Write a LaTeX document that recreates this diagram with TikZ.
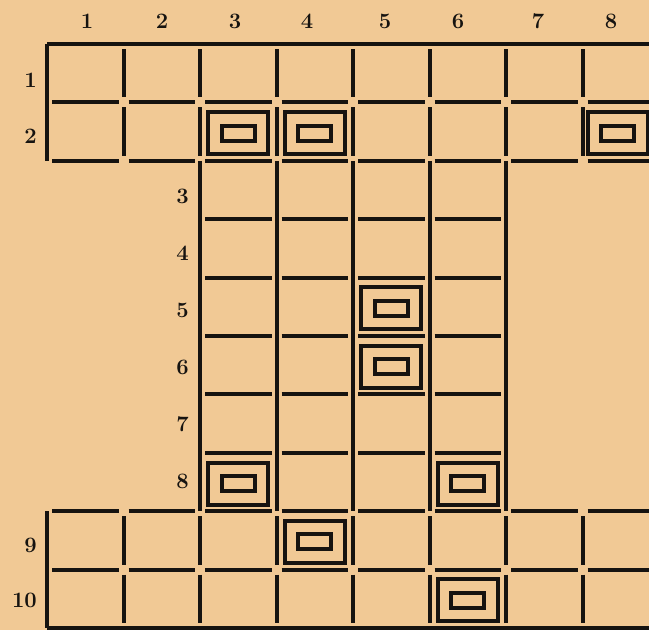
\documentclass[tikz,border=0pt]{standalone}
\usetikzlibrary{calc}
\definecolor{paper}{HTML}{F1C995}
\definecolor{ink}{HTML}{161310}

\begin{document}
\begin{tikzpicture}[x=1pt,y=-1pt,
  rule/.style={draw=ink,line width=4pt},
  cellrule/.style={rule,shorten >=5pt,shorten <=5pt},
  numlbl/.style={font=\fontsize{22}{22}\selectfont\bfseries,text=ink,inner sep=0pt},
  framebox/.style={draw=ink,line width=4pt,minimum width=60pt,minimum height=42pt,inner sep=0pt},
  slotbox/.style={draw=ink,line width=4pt,minimum width=33pt,minimum height=15pt,inner sep=0pt}]
  \def\gx{47}\def\gy{44}\def\cw{76.5}\def\rh{58.4}
  \useasboundingbox (0,0) rectangle (649,630);
  \fill[paper] (0,0) rectangle (649,630);
  \clip (0,0) rectangle (649,630);
  \draw[rule] (\gx,\gy) -- ({\gx+8*\cw},\gy);
  \draw[rule] (\gx,\gy) -- (\gx,{\gy+2*\rh});
  \draw[rule] (\gx,{\gy+8*\rh}) -- (\gx,{\gy+10*\rh});
  \draw[rule] (\gx,{\gy+10*\rh}) -- ({\gx+8*\cw},{\gy+10*\rh});
  \foreach \i in {2,...,6}
    \draw[rule] ({\gx+\i*\cw},{\gy+2*\rh}) -- ++(0,{6*\rh});
  \foreach \j/\a/\b in {1/0/7,2/0/7,3/2/5,4/2/5,5/2/5,6/2/5,7/2/5,8/0/7,9/0/7}
    \foreach \i in {\a,...,\b}
      \draw[cellrule] ({\gx+\i*\cw},{\gy+\j*\rh}) -- ++(\cw,0);
  \foreach \j in {0,1,8,9}
    \foreach \i in {1,...,7}
      \draw[cellrule] ({\gx+\i*\cw},{\gy+\j*\rh}) -- ++(0,\rh);
  \foreach \c/\x in {1/87,2/162,3/235,4/307,5/385,6/458,7/538,8/611}
    \node[numlbl] (c\c) at (\x,21) {\c};
  \foreach \r/\x/\y in {1/37/80,2/37/136,3/189/196,4/189/253,5/189/310,
                        6/189/367,7/189/424,8/189/481,9/37/545,10/37/600}
    \node[numlbl,anchor=east] (r\r) at (\x,\y) {\r};
  \foreach \c/\r/\dx in {3/2/0,4/2/0,8/2/-3,5/5/0,5/6/0,3/8/0,6/8/0,4/9/0,6/10/0} {
    \node[framebox] (b\c\r) at ({\gx+(\c-0.5)*\cw+\dx},{\gy+(\r-0.5)*\rh+1.5}) {};
    \node[slotbox] (s\c\r) at (b\c\r.center) {};
  }
\end{tikzpicture}
\end{document}
